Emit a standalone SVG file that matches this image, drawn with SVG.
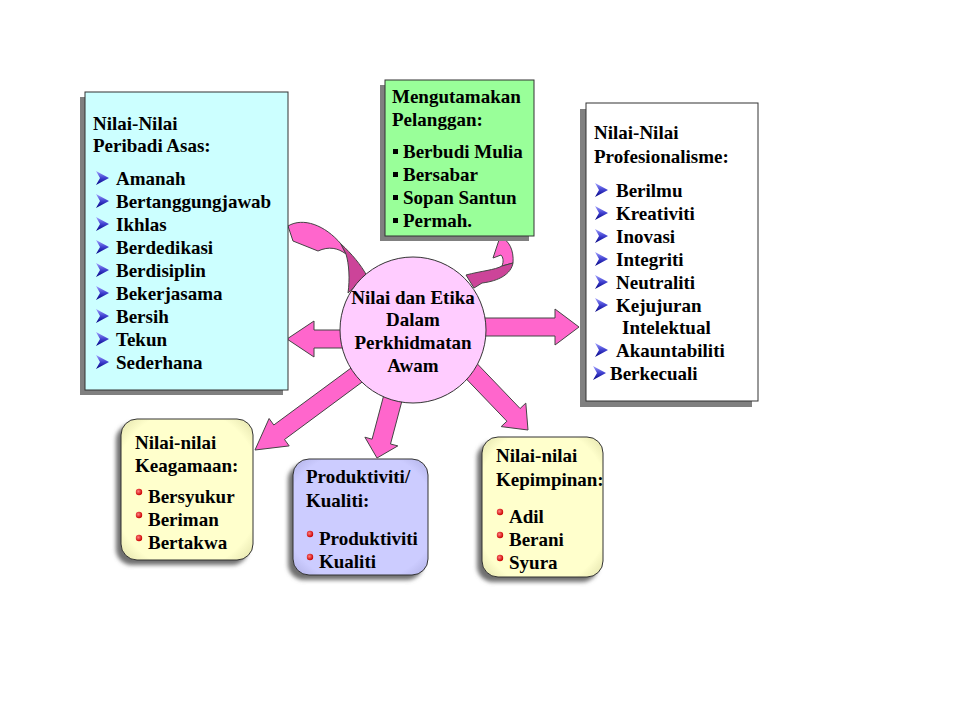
<svg xmlns="http://www.w3.org/2000/svg" xmlns:xlink="http://www.w3.org/1999/xlink" width="960" height="720" viewBox="0 0 960 720">
<style>
text{font-family:"Liberation Serif","Times New Roman",serif;font-weight:bold;font-size:19px;fill:#000}
.c{text-anchor:middle}
.box{stroke:#333;stroke-width:1}
.sh{fill:#808080}
.rsh{fill:#707070;filter:url(#blur)}
.arw{fill:#ff66cc;stroke:#444;stroke-width:1}
.dark{fill:#cc4499;stroke:#444;stroke-width:1}
.sq{fill:#000}
.dot{fill:url(#rd)}
</style>
<defs>
<linearGradient id="bg" x1="0" y1="0" x2="0" y2="1">
<stop offset="0" stop-color="#a0a0ff"/><stop offset="0.5" stop-color="#4040d0"/><stop offset="1" stop-color="#000080"/>
</linearGradient>
<radialGradient id="rd" cx="0.4" cy="0.4" r="0.6">
<stop offset="0" stop-color="#ff8080"/><stop offset="1" stop-color="#cc0000"/>
</radialGradient>
<radialGradient id="gy" cx="0.5" cy="0.5" r="0.75">
<stop offset="0.75" stop-color="#ffffcc"/><stop offset="1" stop-color="#d8d8a0"/>
</radialGradient>
<radialGradient id="gp" cx="0.5" cy="0.5" r="0.75">
<stop offset="0.75" stop-color="#ccccff"/><stop offset="1" stop-color="#a8a8dd"/>
</radialGradient>
<filter id="blur" x="-10%" y="-10%" width="120%" height="120%"><feGaussianBlur stdDeviation="2"/></filter>
<path id="ab" d="M0,0 L13,7 L0,14 L4,7 Z" fill="url(#bg)"/>
</defs>
<rect width="960" height="720" fill="#fff"/>

<g id="connectors">
<polygon class="arw" points="345,330 314,330 314,321 287,339 314,357 314,348 345,348"/>
<polygon class="arw" points="480,318 555,318 555,309 579,327 555,345 555,336 480,336"/>
<polygon class="arw" points="352.7,366.8 273.8,425 269.1,418.5 255,450 289.2,445.9 284.5,439.5 363.3,381.2"/>
<polygon class="arw" points="385.8,387.6 372.1,439.2 364.9,437.2 377,458 397.8,445.9 390.5,444 404.2,392.4"/>
<polygon class="arw" points="473.7,360.1 520.1,408.5 525.8,403.1 528,430 501.2,426.6 506.9,421.2 460.5,372.9"/>
<path class="arw" d="M288,226 C303,217 325,225 341,244 L346,254 C338,248 329,246 318,251 L293,241 Z"/>
<path class="dark" d="M341,244 C352,254 361,265 367,276 L348,293 C350,279 349,264 346,254 Z"/>
<path class="arw" d="M500,237 C509,240 514,250 513,263 L502,266 C504,261 503,257 501,255 L493,258 Z"/>
<path class="dark" d="M513,263 C511,274 499,281 482,283 L474,288 L466,275 C481,271 495,270 502,266 Z"/>
</g>

<g id="center">
<circle cx="413" cy="330" r="73" fill="#ffccff" stroke="#333" stroke-width="1"/>
<text class="c" x="413" y="304">Nilai dan Etika</text>
<text class="c" x="413" y="326">Dalam</text>
<text class="c" x="413" y="349">Perkhidmatan</text>
<text class="c" x="413" y="372">Awam</text>
</g>

<g id="peribadi">
<rect class="sh" x="80" y="97" width="203" height="298"/>
<rect class="box" x="85" y="92" width="203" height="298" fill="#ccffff"/>
<text x="93" y="130">Nilai-Nilai</text>
<text x="93" y="152">Peribadi Asas:</text>
<use href="#ab" x="96" y="171"/><text x="116" y="185">Amanah</text>
<use href="#ab" x="96" y="194"/><text x="116" y="208">Bertanggungjawab</text>
<use href="#ab" x="96" y="217"/><text x="116" y="231">Ikhlas</text>
<use href="#ab" x="96" y="240"/><text x="116" y="254">Berdedikasi</text>
<use href="#ab" x="96" y="263"/><text x="116" y="277">Berdisiplin</text>
<use href="#ab" x="96" y="286"/><text x="116" y="300">Bekerjasama</text>
<use href="#ab" x="96" y="309"/><text x="116" y="323">Bersih</text>
<use href="#ab" x="96" y="332"/><text x="116" y="346">Tekun</text>
<use href="#ab" x="96" y="355"/><text x="116" y="369">Sederhana</text>
</g>

<g id="pelanggan">
<rect class="sh" x="380" y="85" width="149" height="156"/>
<rect class="box" x="385" y="80" width="149" height="156" fill="#99ff99"/>
<text x="392" y="103">Mengutamakan</text>
<text x="392" y="126">Pelanggan:</text>
<rect class="sq" x="393" y="149" width="5" height="5"/><text x="403" y="158">Berbudi Mulia</text>
<rect class="sq" x="393" y="172" width="5" height="5"/><text x="403" y="181">Bersabar</text>
<rect class="sq" x="393" y="195" width="5" height="5"/><text x="403" y="204">Sopan Santun</text>
<rect class="sq" x="393" y="218" width="5" height="5"/><text x="403" y="227">Permah.</text>
</g>

<g id="profesionalisme">
<rect class="sh" x="580" y="109" width="172" height="298"/>
<rect class="box" x="586" y="103" width="172" height="298" fill="#fff"/>
<text x="594" y="139">Nilai-Nilai</text>
<text x="594" y="163">Profesionalisme:</text>
<use href="#ab" x="595" y="183"/><text x="616" y="197">Berilmu</text>
<use href="#ab" x="595" y="206"/><text x="616" y="220">Kreativiti</text>
<use href="#ab" x="595" y="229"/><text x="616" y="243">Inovasi</text>
<use href="#ab" x="595" y="252"/><text x="616" y="266">Integriti</text>
<use href="#ab" x="595" y="275"/><text x="616" y="289">Neutraliti</text>
<use href="#ab" x="595" y="298"/><text x="616" y="312">Kejujuran</text>
<text x="622" y="334">Intelektual</text>
<use href="#ab" x="595" y="343"/><text x="616" y="357">Akauntabiliti</text>
<use href="#ab" x="593" y="366"/><text x="610" y="380">Berkecuali</text>
</g>

<g id="keagamaan">
<rect class="rsh" x="116" y="424" width="132" height="141" rx="16"/>
<rect class="box" x="121" y="419" width="132" height="141" rx="16" fill="url(#gy)"/>
<text x="135" y="449">Nilai-nilai</text>
<text x="135" y="472">Keagamaan:</text>
<circle class="dot" cx="139" cy="492" r="3.2"/><text x="148" y="503">Bersyukur</text>
<circle class="dot" cx="139" cy="515" r="3.2"/><text x="148" y="526">Beriman</text>
<circle class="dot" cx="139" cy="538" r="3.2"/><text x="148" y="549">Bertakwa</text>
</g>

<g id="produktiviti">
<rect class="rsh" x="288" y="464" width="135" height="116" rx="16"/>
<rect class="box" x="293" y="459" width="135" height="116" rx="16" fill="url(#gp)"/>
<text x="306" y="483">Produktiviti/</text>
<text x="306" y="507">Kualiti:</text>
<circle class="dot" cx="310" cy="534" r="3.2"/><text x="319" y="545">Produktiviti</text>
<circle class="dot" cx="310" cy="557" r="3.2"/><text x="319" y="568">Kualiti</text>
</g>

<g id="kepimpinan">
<rect class="rsh" x="477" y="442" width="121" height="140" rx="16"/>
<rect class="box" x="482" y="437" width="121" height="140" rx="16" fill="url(#gy)"/>
<text x="496" y="462">Nilai-nilai</text>
<text x="496" y="486">Kepimpinan:</text>
<circle class="dot" cx="500" cy="512" r="3.2"/><text x="509" y="523">Adil</text>
<circle class="dot" cx="500" cy="535" r="3.2"/><text x="509" y="546">Berani</text>
<circle class="dot" cx="500" cy="558" r="3.2"/><text x="509" y="569">Syura</text>
</g>
</svg>
